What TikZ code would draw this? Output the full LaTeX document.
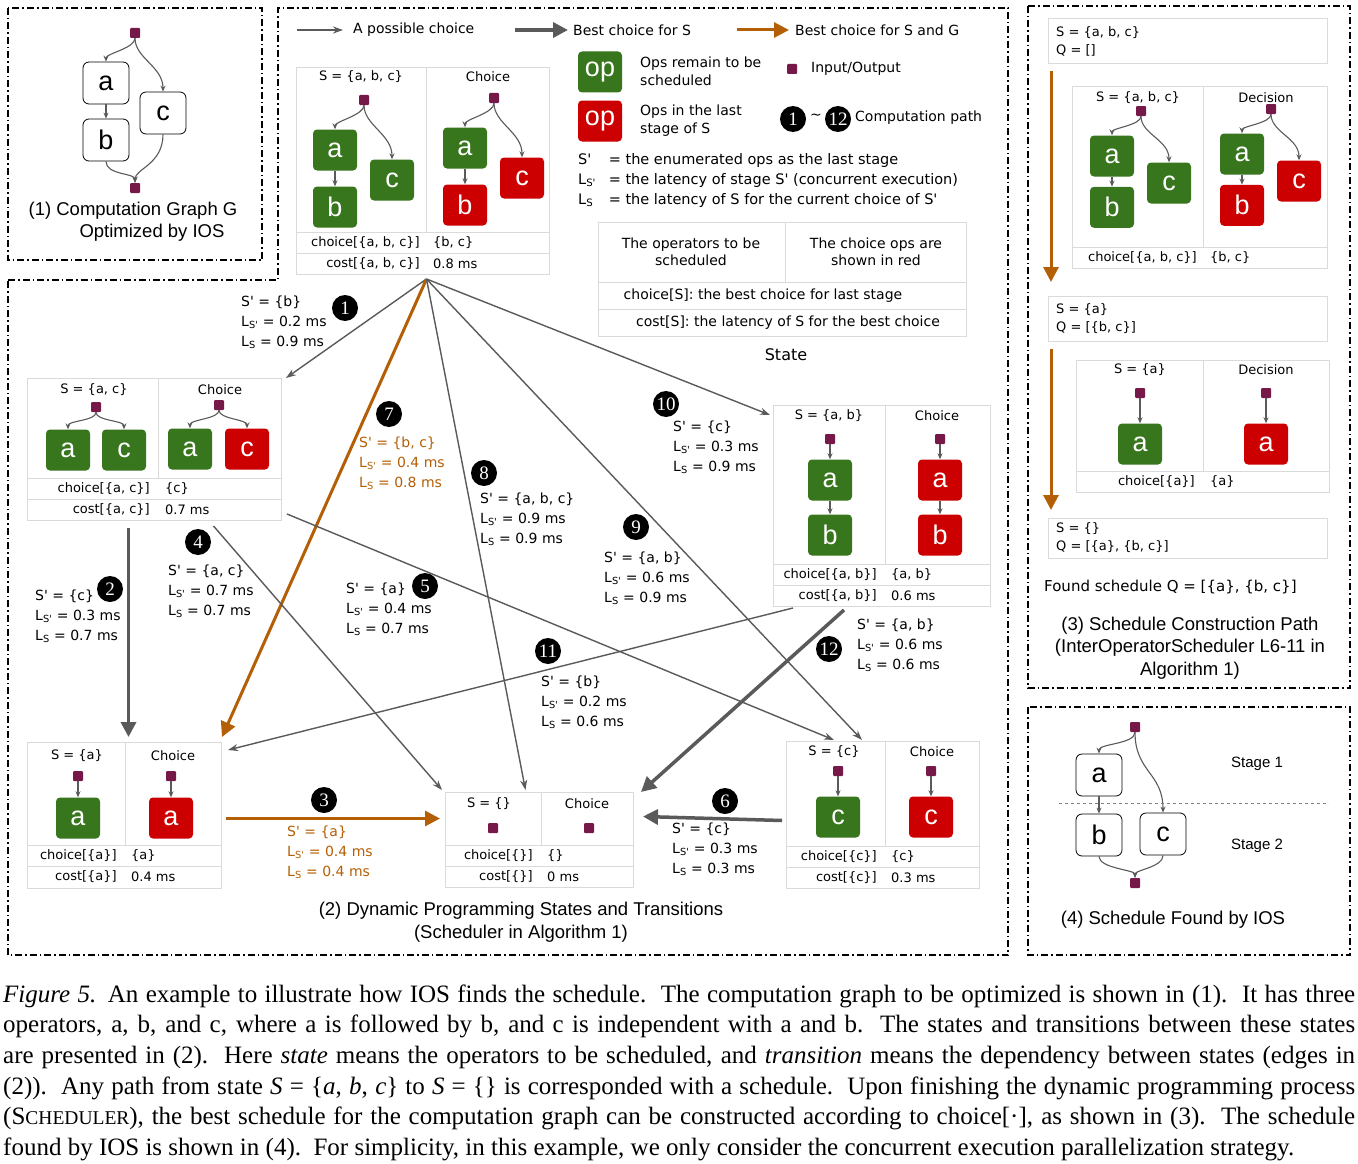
\documentclass[tikz,border=0pt]{standalone}
\usepackage{fontspec}
\usepackage{tikz}
\usetikzlibrary{arrows.meta,positioning}

\setmainfont{Liberation Sans}
\newfontfamily\comicfont{DejaVu Sans}
\newfontfamily\numfont{Liberation Serif}
\newfontfamily\capfont{Liberation Serif}

\definecolor{opgreen}{RGB}{56,118,29}
\definecolor{opred}{RGB}{204,0,0}
\definecolor{iocol}{RGB}{118,24,72}
\definecolor{edgegray}{RGB}{90,90,90}
\definecolor{bestorange}{RGB}{180,95,6}
\definecolor{framegray}{RGB}{218,218,218}

\tikzset{
  frame/.style={line width=1.3pt, dash pattern=on 7pt off 3pt on 1.5pt off 3pt},
  io/.style={fill=iocol, minimum size=10pt, inner sep=0pt, rounded corners=1pt},
  op/.style={rounded corners=4pt, minimum width=44pt, minimum height=41pt, inner sep=0pt, text=white, font=\fontsize{27}{27}\selectfont},
  gop/.style={op, fill=opgreen},
  rop/.style={op, fill=opred},
  wop/.style={op, draw=black, thick, fill=white, text=black, rounded corners=6pt, minimum width=46pt, minimum height=42pt},
  edge/.style={draw=edgegray, line width=1.1pt, -{Stealth[length=6pt,width=5pt]}},
  stbox/.style={draw=framegray, fill=white, line width=1pt, inner sep=0pt},
  stline/.style={draw=framegray, line width=1pt},
  sttext/.style={inner sep=0pt, font=\comicfont\fontsize{13}{17}\selectfont},
  qtext/.style={anchor=west, align=left, inner sep=0pt, font=\comicfont\fontsize{13}{18}\selectfont},
  legtext/.style={anchor=west, align=left, inner sep=0pt, font=\comicfont\fontsize{14}{18}\selectfont},
  deftext/.style={anchor=west, inner sep=0pt, font=\comicfont\fontsize{14.5}{16}\selectfont},
  lbl/.style={anchor=west, align=left, inner sep=0pt, font=\comicfont\fontsize{14}{20}\selectfont},
  captext/.style={inner sep=0pt, align=center, font=\fontsize{18.5}{22.5}\selectfont},
  stagetext/.style={inner sep=0pt, font=\fontsize{15}{16}\selectfont},
  capline/.style={anchor=base west, inner sep=0pt, font=\capfont\fontsize{25}{25}\selectfont},
  numc/.style={circle, fill=black, text=white, minimum size=26pt, inner sep=0pt, font=\numfont\fontsize{19}{19}\selectfont},
  possible/.style={draw=edgegray, line width=1.4pt, -{Stealth[length=10pt,width=7pt]}},
  best/.style={draw=edgegray, line width=3.5pt, -{Triangle[length=15pt,width=15pt]}},
  bestg/.style={draw=bestorange, line width=3pt, -{Triangle[length=15pt,width=15pt]}}
}

% graph of a, b, c below an input node
\newcommand{\abcgraph}[5]{%
  \begin{scope}[#2, name prefix=#1-]
    \node[io] (io) at (0,0) {};
    \node[#3] (a) at (-29,50) {a};
    \node[#4] (b) at (-29,107) {b};
    \node[#5] (c) at (28,80) {c};
    \draw[edge] (io.south) .. controls +(0,10) and +(0,-8) .. (a.north);
    \draw[edge] (io.south) .. controls +(0,20) and +(0,-25) .. (c.north);
    \draw[edge] (a) -- (b);
  \end{scope}}

\begin{document}
\begin{tikzpicture}[x=1pt, y=-1pt]
\fill[white] (0,0) rectangle (1358,1164);
\useasboundingbox (0,0) rectangle (1358,1164);

% Panel frames
\draw[frame] (8,8) rectangle (262,260);
\draw[frame] (8,280) -- (278,280) -- (278,8) -- (1008,8) -- (1008,955) -- (8,955) -- cycle;
\draw[frame] (1028,6) rectangle (1350,688);
\draw[frame] (1028,707) rectangle (1350,955);

% (1) computation graph
\abcgraph{g}{shift={(135,33)}}{wop}{wop}{wop}
\node[io] (g-out) at (135,188) {};
\draw[edge] (g-b.south) .. controls +(0,14) and +(0,-10) .. (g-out.north);
\draw[edge] (g-c.south) .. controls +(0,30) and +(0,-14) .. (g-out.north);
\node[captext] (cap1a) at (133,211) {(1) Computation Graph G};
\node[captext] (cap1b) at (152,233) {Optimized by IOS};

% Legend
\node[legtext] (lg1) at (353,30) {A possible choice};
\node[legtext] (lg2) at (573,30) {Best choice for S};
\node[legtext] (lg3) at (795,30) {Best choice for S and G};
\draw[possible, line width=1.2pt] ([xshift=-56pt]lg1.west) -- ([xshift=-10pt]lg1.west);
\draw[best] ([xshift=-58pt]lg2.west) -- ([xshift=-5pt]lg2.west);
\draw[bestg] ([xshift=-58pt]lg3.west) -- ([xshift=-6pt]lg3.west);
\node[gop] (lgop1) at (600,72) {op};
\node[rop] (lgop2) at (600,121) {op};
\node[legtext] (lgop1t) at (640,71) {Ops remain to be\\scheduled};
\node[legtext] (lgop2t) at (640,121) {Ops in the last\\stage of S};
\node[io] (lgio) at (792,69) {};
\node[legtext] (lgiot) at (811,69) {Input/Output};
\node[numc] (lgn1) at (793,119) {1};
\node[legtext, anchor=center] (lgtil) at (816,117) {\textasciitilde};
\node[numc] (lgn12) at (838,119) {12};
\node[legtext] (lgnt) at (855,118) {Computation path};
\node[deftext] (def1) at (578,160) {\makebox[26pt][l]{S'} = the enumerated ops as the last stage};
\node[deftext] (def2) at (578,180) {\makebox[26pt][l]{L\textsubscript{S'}} = the latency of stage S' (concurrent execution)};
\node[deftext] (def3) at (578,200) {\makebox[26pt][l]{L\textsubscript{S}} = the latency of S for the current choice of S'};
\node[stbox, anchor=north west, minimum width=368pt, minimum height=114pt] (stleg) at (598,222) {};
\draw[stline] (785,222) -- (785,282) (598,282) -- (966,282) (598,309) -- (966,309);
\node[sttext, align=center, font=\comicfont\fontsize{14}{17}\selectfont] (stleg1) at (691,252) {The operators to be\\scheduled};
\node[sttext, align=center, font=\comicfont\fontsize{14}{17}\selectfont] (stleg2) at (876,252) {The choice ops are\\shown in red};
\node[sttext, font=\comicfont\fontsize{14}{17}\selectfont] (stleg3) at (763,296) {choice[S]: the best choice for last stage};
\node[sttext, font=\comicfont\fontsize{14}{17}\selectfont] (stleg4) at (788,323) {cost[S]: the latency of S for the best choice};
\node[sttext, font=\comicfont\fontsize{16}{16}\selectfont] (stleg5) at (786,355) {State};

% State {a, b, c}
\node[stbox, anchor=north west, minimum width=253pt, minimum height=207pt] (sabc) at (296,67) {};
\draw[stline] (426,67) -- (426,232) (296,232) -- (549,232) (296,253) -- (549,253);
\node[sttext] (sabc-s) at (361,77) {S = \{a, b, c\}};
\node[sttext] (sabc-ch) at (488,77) {Choice};
\abcgraph{abcL}{shift={(364,100)}}{gop}{gop}{gop}
\abcgraph{abcR}{shift={(494,98)}}{gop}{rop}{rop}
\node[sttext, anchor=east] (sabc-c) at (420,243) {choice[\{a, b, c\}]};
\node[sttext, anchor=west] (sabc-cv) at (433,243) {\{b, c\}};
\node[sttext, anchor=east] (sabc-k) at (420,264) {cost[\{a, b, c\}]};
\node[sttext, anchor=west] (sabc-kv) at (433,264) {0.8 ms};

% State {a, c}
\node[stbox, anchor=north west, minimum width=254pt, minimum height=142pt] (sac) at (27,378) {};
\draw[stline] (158,378) -- (158,478) (27,478) -- (281,478) (27,499) -- (281,499);
\node[sttext] (sac-s) at (94,390) {S = \{a, c\}};
\node[sttext] (sac-ch) at (220,390) {Choice};
\node[io] (acL-io) at (96,407) {};
\node[gop] (acL-a) at (68,450) {a};
\node[gop] (acL-c) at (124,450) {c};
\node[io] (acR-io) at (219,405) {};
\node[gop] (acR-a) at (190,449) {a};
\node[rop] (acR-c) at (247,449) {c};
\foreach \s in {acL, acR} {
  \draw[edge] (\s-io.south) .. controls +(0,9) and +(0,-9) .. (\s-a.north);
  \draw[edge] (\s-io.south) .. controls +(0,9) and +(0,-9) .. (\s-c.north);
}
\node[sttext, anchor=east] (sac-c) at (150,489) {choice[\{a, c\}]};
\node[sttext, anchor=west] (sac-cv) at (165,489) {\{c\}};
\node[sttext, anchor=east] (sac-k) at (150,510) {cost[\{a, c\}]};
\node[sttext, anchor=west] (sac-kv) at (165,510) {0.7 ms};

% State {a}
\node[stbox, anchor=north west, minimum width=194pt, minimum height=146pt] (sa) at (27,742) {};
\draw[stline] (125,742) -- (125,845) (27,845) -- (221,845) (27,866) -- (221,866);
\node[sttext] (sa-s) at (77,756) {S = \{a\}};
\node[sttext] (sa-ch) at (173,756) {Choice};
\node[io] (aL-io) at (78,776) {};
\node[gop] (aL-a) at (78,818) {a};
\node[io] (aR-io) at (171,776) {};
\node[rop] (aR-a) at (171,818) {a};
\draw[edge] (aL-io) -- (aL-a);
\draw[edge] (aR-io) -- (aR-a);
\node[sttext, anchor=east] (sa-c) at (117,856) {choice[\{a\}]};
\node[sttext, anchor=west] (sa-cv) at (131,856) {\{a\}};
\node[sttext, anchor=east] (sa-k) at (117,877) {cost[\{a\}]};
\node[sttext, anchor=west] (sa-kv) at (131,877) {0.4 ms};

% State {}
\node[stbox, anchor=north west, minimum width=188pt, minimum height=95pt] (sempty) at (445,792) {};
\draw[stline] (541,792) -- (541,845) (445,845) -- (633,845) (445,866) -- (633,866);
\node[sttext] (se-s) at (489,804) {S = \{\}};
\node[sttext] (se-ch) at (587,804) {Choice};
\node[io] (eL-io) at (493,828) {};
\node[io] (eR-io) at (589,828) {};
\node[sttext, anchor=east] (se-c) at (533,856) {choice[\{\}]};
\node[sttext, anchor=west] (se-cv) at (547,856) {\{\}};
\node[sttext, anchor=east] (se-k) at (533,877) {cost[\{\}]};
\node[sttext, anchor=west] (se-kv) at (547,877) {0 ms};

% State {a, b}
\node[stbox, anchor=north west, minimum width=217pt, minimum height=201pt] (sab) at (773,405) {};
\draw[stline] (885,405) -- (885,564) (773,564) -- (990,564) (773,585) -- (990,585);
\node[sttext] (sab-s) at (829,416) {S = \{a, b\}};
\node[sttext] (sab-ch) at (937,416) {Choice};
\node[io] (abL-io) at (830,439) {};
\node[gop] (abL-a) at (830,480) {a};
\node[gop] (abL-b) at (830,535) {b};
\node[io] (abR-io) at (940,439) {};
\node[rop] (abR-a) at (940,480) {a};
\node[rop] (abR-b) at (940,535) {b};
\foreach \s in {abL, abR} {
  \draw[edge] (\s-io) -- (\s-a);
  \draw[edge] (\s-a) -- (\s-b);
}
\node[sttext, anchor=east] (sab-c) at (877,575) {choice[\{a, b\}]};
\node[sttext, anchor=west] (sab-cv) at (891,575) {\{a, b\}};
\node[sttext, anchor=east] (sab-k) at (877,596) {cost[\{a, b\}]};
\node[sttext, anchor=west] (sab-kv) at (891,596) {0.6 ms};

% State {c}
\node[stbox, anchor=north west, minimum width=193pt, minimum height=147pt] (sc) at (786,741) {};
\draw[stline] (885,741) -- (885,846) (786,846) -- (979,846) (786,867) -- (979,867);
\node[sttext] (sc-s) at (834,752) {S = \{c\}};
\node[sttext] (sc-ch) at (932,752) {Choice};
\node[io] (cL-io) at (838,771) {};
\node[gop] (cL-c) at (838,817) {c};
\node[io] (cR-io) at (931,771) {};
\node[rop] (cR-c) at (931,817) {c};
\draw[edge] (cL-io) -- (cL-c);
\draw[edge] (cR-io) -- (cR-c);
\node[sttext, anchor=east] (sc-c) at (877,857) {choice[\{c\}]};
\node[sttext, anchor=west] (sc-cv) at (891,857) {\{c\}};
\node[sttext, anchor=east] (sc-k) at (877,878) {cost[\{c\}]};
\node[sttext, anchor=west] (sc-kv) at (891,878) {0.3 ms};

% Transitions
\coordinate (abcout) at ([xshift=3.5pt,yshift=-4pt]sabc.south);
\draw[possible] (abcout) -- ([xshift=4pt]sac.north east);
\draw[bestg] (abcout) -- ([yshift=5pt]sa.north east);
\draw[possible] (abcout) -- ([xshift=-14pt,yshift=2pt]sempty.north);
\draw[possible] (abcout) -- ([xshift=-21pt,yshift=1pt]sc.north);
\draw[possible] (abcout) -- ([xshift=-3pt,yshift=-10pt]sab.north west);
\draw[best] ([xshift=-26pt,yshift=-7pt]sac.south) -- ([xshift=4pt,yshift=5pt]sa.north);
\draw[possible] ([xshift=59pt,yshift=-5pt]sac.south) -- ([xshift=-3pt,yshift=2pt]sempty.north west);
\draw[possible] ([xshift=5pt,yshift=7pt]sac.south east) -- ([xshift=-49pt,yshift=1pt]sc.north);
\draw[possible] ([xshift=20pt,yshift=-1pt]sab.south west) -- ([xshift=6pt,yshift=-8pt]sa.north east);
\draw[best] ([xshift=-38pt,yshift=-3pt]sab.south) -- ([xshift=7pt]sempty.north east);
\draw[bestg] ([xshift=4pt,yshift=-3pt]sa.east) -- ([xshift=-5pt,yshift=21.5pt]sempty.west);
\draw[best] ([xshift=-4pt,yshift=-5.5pt]sc.west) -- ([xshift=9pt,yshift=23.5pt]sempty.east);

% Path numbers
\foreach \n/\x/\y in {1/345/308, 2/110/589, 3/324/800, 4/198/542, 5/425/586, 6/725/801,
                      7/389/414, 8/484/473, 9/636/527, 10/666/404, 11/548/651, 12/829/649}
  \node[numc] (n\n) at (\x,\y) {\n};

% Transition labels
\node[lbl] (l1) at (241,322) {S' = \{b\}\\L\textsubscript{S'} = 0.2 ms\\L\textsubscript{S} = 0.9 ms};
\node[lbl] (l2) at (35,616) {S' = \{c\}\\L\textsubscript{S'} = 0.3 ms\\L\textsubscript{S} = 0.7 ms};
\node[lbl, text=bestorange] (l3) at (287,852) {S' = \{a\}\\L\textsubscript{S'} = 0.4 ms\\L\textsubscript{S} = 0.4 ms};
\node[lbl] (l4) at (168,591) {S' = \{a, c\}\\L\textsubscript{S'} = 0.7 ms\\L\textsubscript{S} = 0.7 ms};
\node[lbl] (l5) at (346,609) {S' = \{a\}\\L\textsubscript{S'} = 0.4 ms\\L\textsubscript{S} = 0.7 ms};
\node[lbl] (l6) at (672,849) {S' = \{c\}\\L\textsubscript{S'} = 0.3 ms\\L\textsubscript{S} = 0.3 ms};
\node[lbl, text=bestorange] (l7) at (359,463) {S' = \{b, c\}\\L\textsubscript{S'} = 0.4 ms\\L\textsubscript{S} = 0.8 ms};
\node[lbl] (l8) at (480,519) {S' = \{a, b, c\}\\L\textsubscript{S'} = 0.9 ms\\L\textsubscript{S} = 0.9 ms};
\node[lbl] (l9) at (604,578) {S' = \{a, b\}\\L\textsubscript{S'} = 0.6 ms\\L\textsubscript{S} = 0.9 ms};
\node[lbl] (l10) at (673,447) {S' = \{c\}\\L\textsubscript{S'} = 0.3 ms\\L\textsubscript{S} = 0.9 ms};
\node[lbl] (l11) at (541,702) {S' = \{b\}\\L\textsubscript{S'} = 0.2 ms\\L\textsubscript{S} = 0.6 ms};
\node[lbl] (l12) at (857,645) {S' = \{a, b\}\\L\textsubscript{S'} = 0.6 ms\\L\textsubscript{S} = 0.6 ms};

\node[captext] (cap2) at (521,922) {(2) Dynamic Programming States and Transitions\\(Scheduler in Algorithm 1)};

% (3) schedule construction path
\node[stbox, anchor=north west, minimum width=279pt, minimum height=45pt] (q1) at (1048,18) {};
\node[qtext] (q1t) at (1056,41) {S = \{a, b, c\}\\Q = []};
\node[stbox, anchor=north west, minimum width=255pt, minimum height=182pt] (d1) at (1072,86) {};
\draw[stline] (1203,86) -- (1203,247) (1072,247) -- (1327,247);
\node[sttext] (d1-s) at (1138,98) {S = \{a, b, c\}};
\node[sttext] (d1-d) at (1266,98) {Decision};
\abcgraph{d1L}{shift={(1141,111)}, yscale=0.9}{gop}{gop}{gop}
\abcgraph{d1R}{shift={(1271,109)}, yscale=0.9}{gop}{rop}{rop}
\node[sttext, anchor=east] (d1-c) at (1197,258) {choice[\{a, b, c\}]};
\node[sttext, anchor=west] (d1-cv) at (1210,258) {\{b, c\}};
\node[stbox, anchor=north west, minimum width=279pt, minimum height=45pt] (q2) at (1048,296) {};
\node[qtext] (q2t) at (1056,319) {S = \{a\}\\Q = [\{b, c\}]};
\node[stbox, anchor=north west, minimum width=253pt, minimum height=132pt] (d2) at (1076,360) {};
\draw[stline] (1203,360) -- (1203,471) (1076,471) -- (1329,471);
\node[sttext] (d2-s) at (1140,370) {S = \{a\}};
\node[sttext] (d2-d) at (1266,370) {Decision};
\node[io] (d2L-io) at (1140,393) {};
\node[gop] (d2L-a) at (1140,444) {a};
\node[io] (d2R-io) at (1266,393) {};
\node[rop] (d2R-a) at (1266,444) {a};
\draw[edge] (d2L-io) -- (d2L-a);
\draw[edge] (d2R-io) -- (d2R-a);
\node[sttext, anchor=east] (d2-c) at (1195,482) {choice[\{a\}]};
\node[sttext, anchor=west] (d2-cv) at (1210,482) {\{a\}};
\node[stbox, anchor=north west, minimum width=279pt, minimum height=40pt] (q3) at (1048,518) {};
\node[qtext] (q3t) at (1056,538) {S = \{\}\\Q = [\{a\}, \{b, c\}]};
\draw[bestg] ([xshift=3pt,yshift=-7pt]q1.south west) -- ([xshift=3pt,yshift=14pt]q2.north west);
\draw[bestg] ([xshift=3pt,yshift=-7pt]q2.south west) -- ([xshift=3pt,yshift=8pt]q3.north west);
\node[legtext, font=\comicfont\fontsize{15}{16}\selectfont] (found) at (1044,587) {Found schedule Q = [\{a\}, \{b, c\}]};
\node[captext] (cap3) at (1190,648) {(3) Schedule Construction Path\\(InterOperatorScheduler L6-11 in\\Algorithm 1)};

% (4) schedule found
\node[io] (s-io) at (1135,727) {};
\node[wop] (s-a) at (1099,775) {a};
\node[wop] (s-b) at (1099,835) {b};
\node[wop] (s-c) at (1163,834) {c};
\node[io] (s-out) at (1135,883) {};
\draw[edge] (s-io.south) .. controls +(0,12) and +(0,-10) .. (s-a.north);
\draw[edge] (s-io.south) .. controls +(0,40) and +(0,-40) .. (s-c.north);
\draw[edge] (s-a) -- (s-b);
\draw[edge] (s-b.south) .. controls +(0,12) and +(0,-8) .. (s-out.north);
\draw[edge] (s-c.south) .. controls +(0,12) and +(0,-8) .. (s-out.north);
\draw[gray, dashed] (1059,803) -- (1329,803);
\node[stagetext] (st1) at (1257,764) {Stage 1};
\node[stagetext] (st2) at (1257,846) {Stage 2};
\node[captext] (cap4) at (1173,920) {(4) Schedule Found by IOS};

% Figure caption
\node[capline] (fig1) at (3,1002) {\makebox[1352pt][s]{\textit{Figure 5.} An example to illustrate how IOS finds the schedule.\ \ The computation graph to be optimized is shown in (1).\ \ It has three}};
\node[capline] (fig2) at (3,1032.5) {\makebox[1352pt][s]{operators, a, b, and c, where a is followed by b, and c is independent with a and b.\ \ The states and transitions between these states}};
\node[capline] (fig3) at (3,1063) {\makebox[1352pt][s]{are presented in (2).\ \ Here \textit{state} means the operators to be scheduled, and \textit{transition} means the dependency between states (edges in}};
\node[capline] (fig4) at (3,1094) {\makebox[1352pt][s]{(2)).\ \ Any path from state \textit{S} = \{\textit{a}, \textit{b}, \textit{c}\} to \textit{S} = \{\} is corresponded with a schedule.\ \ Upon finishing the dynamic programming process}};
\node[capline] (fig5) at (3,1124.5) {\makebox[1352pt][s]{(S{\fontsize{19.5}{19.5}\selectfont CHEDULER}), the best schedule for the computation graph can be constructed according to choice[·], as shown in (3).\ \ The schedule}};
\node[capline] (fig6) at (3,1155) {found by IOS is shown in (4).\ \ For simplicity, in this example, we only consider the concurrent execution parallelization strategy.};
\end{tikzpicture}
\end{document}
